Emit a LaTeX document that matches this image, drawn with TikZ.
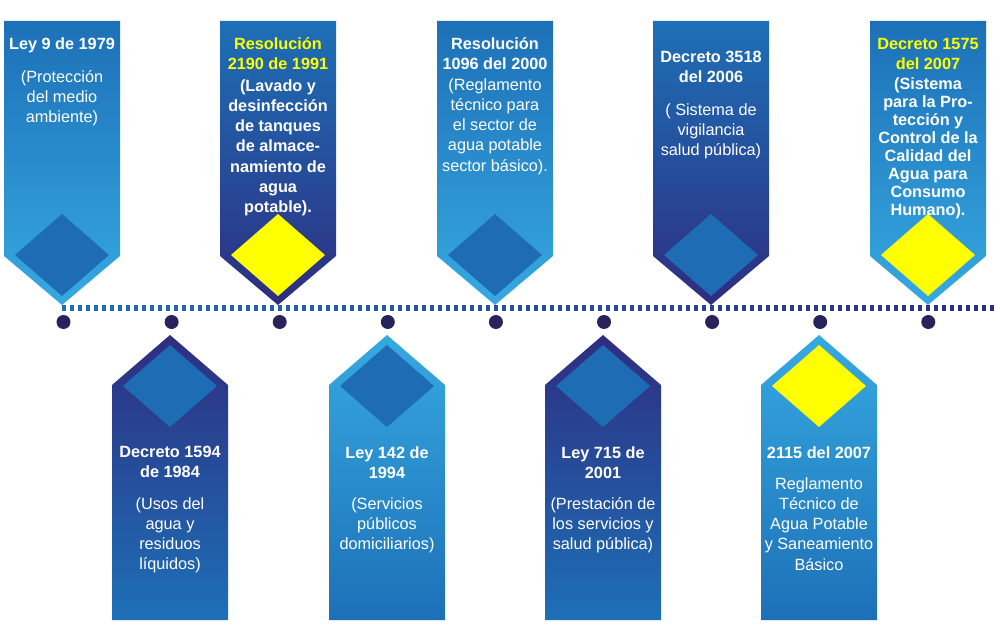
\documentclass[tikz,border=0pt]{standalone}
\usepackage{fontspec}
\setmainfont{Liberation Sans}
\definecolor{lightb}{HTML}{36A9E1}
\definecolor{midb}{HTML}{1D70B7}
\definecolor{navyb}{HTML}{2E2D80}
\definecolor{diab}{HTML}{1E6DB4}
\definecolor{dotc}{HTML}{29235C}
\definecolor{yel}{HTML}{FFFF00}
\newcommand\TopBanner[4]{%
  \path[top color=#2,bottom color=#3] (#1-58,21) -- (#1+58,21) -- (#1+58,256) -- (#1,305) -- (#1-58,256) -- cycle;
  \fill[#4] (#1,214) -- (#1+47,255) -- (#1,296) -- (#1-47,255) -- cycle;
}
\newcommand\BotBanner[4]{%
  \path[top color=#2,bottom color=#3] (#1-58,620) -- (#1-58,385) -- (#1,335) -- (#1+58,385) -- (#1+58,620) -- cycle;
  \fill[#4] (#1,345) -- (#1+47,386) -- (#1,427) -- (#1-47,386) -- cycle;
}
\tikzset{
  ttl/.style={font=\bfseries\fontsize{12.2}{15.2}\selectfont, text=white, align=center, anchor=north, inner sep=0pt},
  dsc/.style={font=\fontsize{12.2}{15.2}\selectfont, text=white, align=center, anchor=north, inner sep=0pt},
  dotn/.style={circle, fill=dotc, inner sep=0pt, minimum size=10.5pt},
}
\begin{document}
\begin{tikzpicture}[x=0.75pt,y=-0.75pt]
\useasboundingbox (0,0) rectangle (1000,641);
% banners above the line
\TopBanner{62}{midb}{lightb}{diab}
\TopBanner{278}{midb}{navyb}{yel}
\TopBanner{495}{midb}{lightb}{diab}
\TopBanner{711}{midb}{navyb}{diab}
\TopBanner{928}{midb}{lightb}{yel}
% banners below the line
\BotBanner{170}{navyb}{midb}{diab}
\BotBanner{387}{lightb}{midb}{diab}
\BotBanner{603}{navyb}{midb}{diab}
\BotBanner{819}{lightb}{midb}{yel}
% dotted timeline
\coordinate (tlstart) at (62,308);
\coordinate (tlend) at (997,308);
\foreach \i in {0,...,116}{%
  \pgfmathsetmacro\p{100-\i/116*100}
  \fill[midb!\p!navyb] (62+8*\i,305) rectangle ++(4,6);
}
% dots
\foreach \k in {0,...,8}{%
  \node[dotn] (d\k) at (63.5+108.1*\k,322) {};
}
% texts above
\node[ttl] (t1) at (62,37) {Ley 9 de 1979};
\node[dsc] (s1) at (62,70) {(Protección\\del medio\\ambiente)};
\node[ttl,text=yel] (t2) at (278,37) {Resolución\\2190 de 1991};
\node[ttl] (s2) at (278,79) {(Lavado y\\desinfección\\de tanques\\de almace-\\namiento de\\agua\\potable).};
\node[ttl] (t3) at (495,37) {Resolución\\1096 del 2000};
\node[dsc] (s3) at (495,78) {(Reglamento\\técnico para\\el sector de\\agua potable\\sector básico).};
\node[ttl] (t4) at (711,51) {Decreto 3518\\del 2006};
\node[dsc] (s4) at (711,103) {( Sistema de\\vigilancia\\salud pública)};
\node[ttl,text=yel] (t5) at (928,38) {Decreto 1575\\del 2007};
\node[ttl,font=\bfseries\fontsize{12.2}{13.6}\selectfont] (s5) at (928,77) {(Sistema\\para la Pro-\\tección y\\Control de la\\Calidad del\\Agua para\\Consumo\\Humano).};
% texts below
\node[ttl] (t6) at (170,446) {Decreto 1594\\de 1984};
\node[dsc] (s6) at (170,497) {(Usos del\\agua y\\residuos\\líquidos)};
\node[ttl] (t7) at (387,446) {Ley 142 de\\1994};
\node[dsc] (s7) at (387,497) {(Servicios\\públicos\\domiciliarios)};
\node[ttl] (t8) at (603,446) {Ley 715 de\\2001};
\node[dsc] (s8) at (603,497) {(Prestación de\\los servicios y\\salud pública)};
\node[ttl] (t9) at (819,446) {2115 del 2007};
\node[dsc] (s9) at (819,477) {Reglamento\\Técnico de\\Agua Potable\\y Saneamiento\\Básico};
\end{tikzpicture}
\end{document}
